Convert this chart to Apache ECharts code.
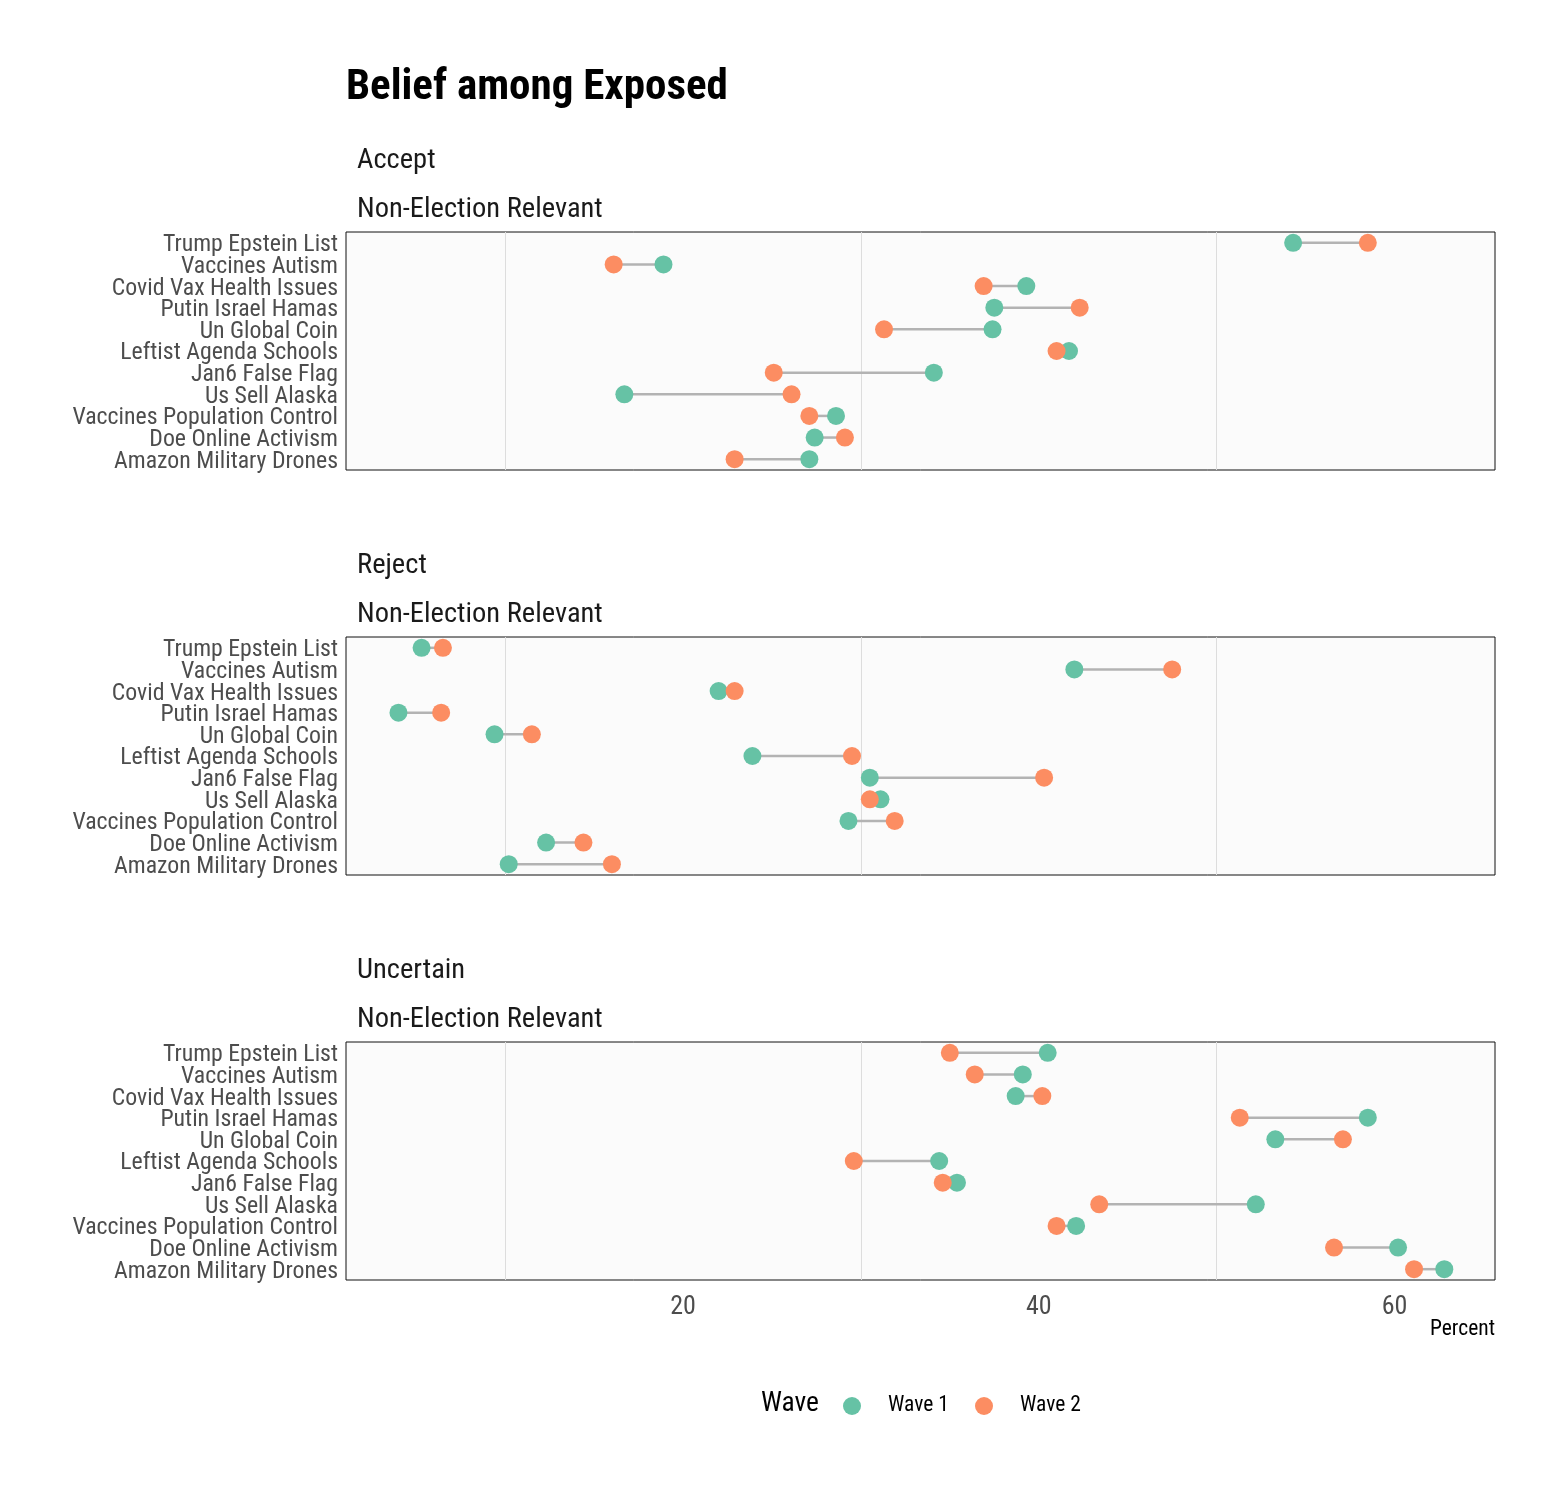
<!DOCTYPE html>
<html>
<head>
<meta charset="utf-8">
<script src="https://cdn.jsdelivr.net/npm/echarts@6/dist/echarts.min.js"></script>
<style>
html,body{margin:0;padding:0;background:#ffffff;}
#chart{width:1567px;height:1508px;}
</style>
</head>
<body>
<div id="chart"></div>
<script>
// ---------- data ----------
const chartTitle = 'Belief among Exposed';
const panelNames = ['Accept', 'Reject', 'Uncertain'];
const subgroupLabel = 'Non-Election Relevant';
const categories = [
  'Trump Epstein List',
  'Vaccines Autism',
  'Covid Vax Health Issues',
  'Putin Israel Hamas',
  'Un Global Coin',
  'Leftist Agenda Schools',
  'Jan6 False Flag',
  'Us Sell Alaska',
  'Vaccines Population Control',
  'Doe Online Activism',
  'Amazon Military Drones'
];
const acceptWave1 = [54.3, 18.9, 39.3, 37.5, 37.4, 41.7, 34.1, 16.7, 28.6, 27.4, 27.1];
const acceptWave2 = [58.5, 16.1, 36.9, 42.3, 31.3, 41.0, 25.1, 26.1, 27.1, 29.1, 22.9];
const rejectWave1 = [5.3, 42.0, 22.0, 4.0, 9.4, 23.9, 30.5, 31.1, 29.3, 12.3, 10.2];
const rejectWave2 = [6.5, 47.5, 22.9, 6.4, 11.5, 29.5, 40.3, 30.5, 31.9, 14.4, 16.0];
const uncertainWave1 = [40.5, 39.1, 38.7, 58.5, 53.3, 34.4, 35.4, 52.2, 42.1, 60.2, 62.8];
const uncertainWave2 = [35.0, 36.4, 40.2, 51.3, 57.1, 29.6, 34.6, 43.4, 41.0, 56.6, 61.1];
const waveNames = ['Wave 1', 'Wave 2'];
const xTickLabels = [20, 40, 60];
const xGridValues = [10, 30, 50];
const xName = 'Percent';
const legendTitle = 'Wave';

// ---------- styling ----------
const FONT = "'Roboto Condensed', 'Liberation Sans Narrow', 'DejaVu Sans Condensed', Roboto, sans-serif";
const waveColors = ['#66C2A5', '#FC8D62'];
const panelData = [
  [acceptWave1, acceptWave2],
  [rejectWave1, rejectWave2],
  [uncertainWave1, uncertainWave2]
];
const gridLeft = 346, gridWidth = 1149, gridHeight = 238;
const gridTops = [232, 637, 1042];
const xMin = 1.05, xMax = 65.65;

const grids = [], xAxes = [], yAxes = [], series = [], graphics = [];

graphics.push({
  type: 'text', x: gridLeft, y: 88,
  style: { text: chartTitle, fontSize: 43, fontWeight: 'bold', fontFamily: FONT, fill: '#000000',
           textAlign: 'left', align: 'left', textVerticalAlign: 'middle', verticalAlign: 'middle' }
});

panelNames.forEach((name, i) => {
  const top = gridTops[i];
  grids.push({
    left: gridLeft, top: top, width: gridWidth, height: gridHeight,
    show: true, backgroundColor: '#FBFBFB', borderColor: '#111111', borderWidth: 1
  });
  xAxes.push({
    type: 'value', gridIndex: i, min: xMin, max: xMax,
    axisLine: { show: false },
    axisTick: { show: false, customValues: xGridValues },
    axisLabel: {
      show: i === panelNames.length - 1, customValues: xTickLabels,
      fontSize: 26, color: '#4D4D4D', fontFamily: FONT, margin: 14
    },
    splitLine: { show: true, lineStyle: { color: '#DDDDDD', width: 1 } }
  });
  yAxes.push({
    type: 'category', gridIndex: i, data: categories, inverse: true,
    axisLine: { show: false }, axisTick: { show: false },
    axisLabel: { fontSize: 23.8, color: '#4D4D4D', fontFamily: FONT, margin: 8,
                 interval: 0, hideOverlap: false, verticalAlign: 'top', lineHeight: 5 },
    splitLine: { show: false }
  });
  const [w1, w2] = panelData[i];
  series.push({
    type: 'custom', xAxisIndex: i, yAxisIndex: i, z: 1, silent: true,
    data: categories.map((c, j) => [w1[j], w2[j], j]),
    encode: { x: [0, 1], y: 2 },
    renderItem: function (params, api) {
      const p1 = api.coord([api.value(0), api.value(2)]);
      const p2 = api.coord([api.value(1), api.value(2)]);
      return { type: 'line', shape: { x1: p1[0], y1: p1[1], x2: p2[0], y2: p2[1] },
               style: { stroke: '#B3B3B3', lineWidth: 2.5 } };
    }
  });
  [w1, w2].forEach((vals, k) => {
    series.push({
      type: 'scatter', name: waveNames[k], xAxisIndex: i, yAxisIndex: i, z: 2 + k,
      symbol: 'circle', symbolSize: 18,
      itemStyle: { color: waveColors[k], opacity: 1 },
      emphasis: { disabled: true },
      data: categories.map((c, j) => [vals[j], c])
    });
  });
  graphics.push({
    type: 'text', x: 357, y: top - 71,
    style: { text: name, fontSize: 28.5, fontFamily: FONT, fill: '#1A1A1A',
             textAlign: 'left', align: 'left', textVerticalAlign: 'middle', verticalAlign: 'middle' }
  });
  graphics.push({
    type: 'text', x: 357, y: top - 22,
    style: { text: subgroupLabel, fontSize: 28.5, fontFamily: FONT, fill: '#1A1A1A',
             textAlign: 'left', align: 'left', textVerticalAlign: 'middle', verticalAlign: 'middle' }
  });
});

graphics.push({
  type: 'text', x: gridLeft + gridWidth, y: 1330,
  style: { text: xName, fontSize: 21.5, fontFamily: FONT, fill: '#000000',
           textAlign: 'right', align: 'right', textVerticalAlign: 'middle', verticalAlign: 'middle' }
});
graphics.push({
  type: 'text', x: 761, y: 1404,
  style: { text: legendTitle, fontSize: 27.5, fontFamily: FONT, fill: '#000000',
           textAlign: 'left', align: 'left', textVerticalAlign: 'middle', verticalAlign: 'middle' }
});

const legendLefts = [843, 975];
const legends = waveNames.map((n, k) => ({
  data: [n], left: legendLefts[k], top: 1395, orient: 'horizontal',
  icon: 'circle', itemWidth: 18, itemHeight: 18, selectedMode: false,
  padding: 0,
  textStyle: { fontSize: 21.5, color: '#000000', fontFamily: FONT, padding: [0, 0, 0, 22] }
}));

const chart = echarts.init(document.getElementById('chart'), null, { renderer: 'canvas' });
chart.setOption({
  animation: false,
  backgroundColor: '#FFFFFF',
  grid: grids,
  xAxis: xAxes,
  yAxis: yAxes,
  series: series,
  legend: legends,
  graphic: graphics
});
</script>
</body>
</html>
